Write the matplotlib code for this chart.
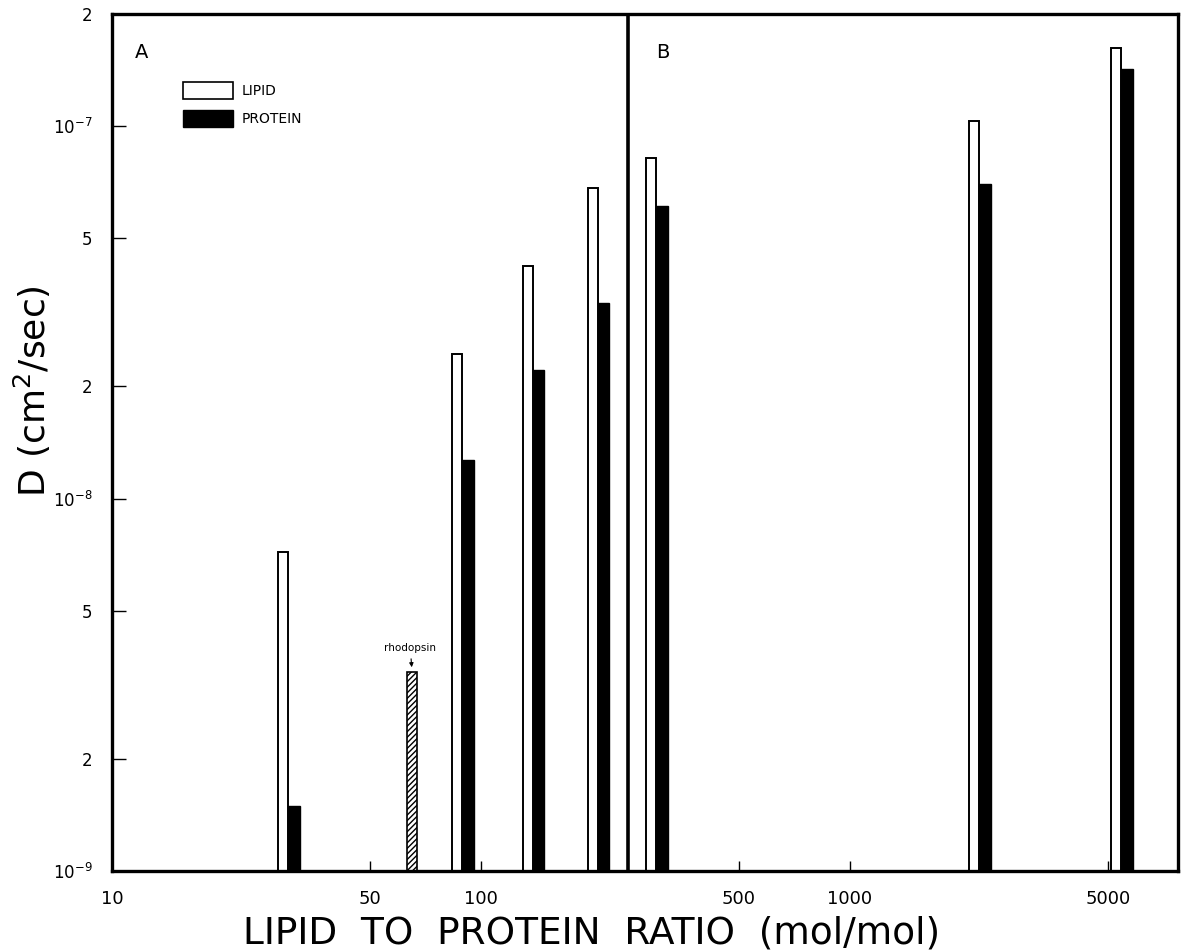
import numpy as np
import matplotlib
matplotlib.use('Agg')
import matplotlib.pyplot as plt
from matplotlib.patches import Patch

plt.rcParams['font.family'] = ['DejaVu Sans']

# lipid to protein ratio (mol/mol) for each lipid/protein pair
ratio = [30, 89, 138, 207, 298, 2240, 5420]
lipid_D = [7.2e-9, 2.44e-8, 4.2e-8, 6.8e-8, 8.2e-8, 1.03e-7, 1.62e-7]
protein_D = [1.49e-9, 1.27e-8, 2.21e-8, 3.34e-8, 6.1e-8, 7.0e-8, 1.42e-7]
rhodopsin_ratio = 65
rhodopsin_D = 3.43e-9

xticks = [10, 50, 100, 500, 1000, 5000]
xticklabels = ['10', '50', '100', '500', '1000', '5000']
yticks = [1e-9, 2e-9, 5e-9, 1e-8, 2e-8, 5e-8, 1e-7, 2e-7]
yticklabels = [r'$10^{-9}$', '2', '5', r'$10^{-8}$', '2', '5', r'$10^{-7}$', '2']

fig = plt.figure(figsize=(11.81, 9.52), dpi=100)
ax = fig.add_axes([112/1181, 81/952, 1066/1181, 857/952])
ax.set_xscale('log')
ax.set_yscale('log')
ax.set_xlim(10, 7750)
ax.set_ylim(1e-9, 2e-7)

base = 1e-9
wl = 0.027   # lipid bar width (decades)
wp = 0.032   # protein bar width (decades)
r = np.array(ratio, dtype=float)
lip_left = r * 10**(-wl)
ax.bar(lip_left, np.array(lipid_D) - base, width=r - lip_left, bottom=base, align='edge',
       facecolor='white', edgecolor='black', linewidth=1.4)
ax.bar(r, np.array(protein_D) - base, width=r * (10**wp - 1), bottom=base, align='edge',
       facecolor='black', edgecolor='black', linewidth=1.0)

rl = rhodopsin_ratio * 10**(-0.0135)
rr = rhodopsin_ratio * 10**(0.0135)
ax.bar(rl, rhodopsin_D - base, width=rr - rl, bottom=base, align='edge',
       facecolor='white', edgecolor='black', linewidth=1.2, hatch='//////')
ax.annotate('rhodopsin', xy=(rhodopsin_ratio, rhodopsin_D * 1.01),
            xytext=(rhodopsin_ratio * 0.99, rhodopsin_D * 1.12),
            ha='center', va='bottom', fontsize=7.5,
            arrowprops=dict(arrowstyle='-|>', color='black', lw=0.8, mutation_scale=6))

# divider between panel A and panel B
ax.axvline(250, color='black', lw=2.6)
ax.text(0.021, 0.955, 'A', transform=ax.transAxes, fontsize=14, va='center')
ax.text(0.51, 0.955, 'B', transform=ax.transAxes, fontsize=14, va='center')

for s in ax.spines.values():
    s.set_linewidth(2.4)

ax.set_xticks(xticks)
ax.set_xticklabels(xticklabels, fontsize=13)
ax.xaxis.set_minor_locator(plt.NullLocator())
ax.set_yticks(yticks)
ax.set_yticklabels(yticklabels, fontsize=12)
ax.yaxis.set_minor_locator(plt.NullLocator())
ax.tick_params(axis='x', direction='in', length=7, width=1.0, pad=14)
ax.tick_params(axis='y', direction='in', length=10, width=1.0, pad=14)

ax.set_xlabel('LIPID  TO  PROTEIN  RATIO  (mol/mol)', fontsize=27)
ax.xaxis.set_label_coords(0.45, -0.052)
ax.set_ylabel('D (cm$^2$/sec)', fontsize=26)
ax.yaxis.set_label_coords(-0.055, 0.56)

handles = [Patch(facecolor='white', edgecolor='black', linewidth=1.2),
           Patch(facecolor='black', edgecolor='black')]
ax.legend(handles, ['LIPID', 'PROTEIN'], loc='upper left', bbox_to_anchor=(0.055, 0.935),
          frameon=False, fontsize=10, handlelength=3.6, handleheight=1.5,
          handletextpad=0.6, labelspacing=0.8)

fig.savefig('out.png', dpi=100)
